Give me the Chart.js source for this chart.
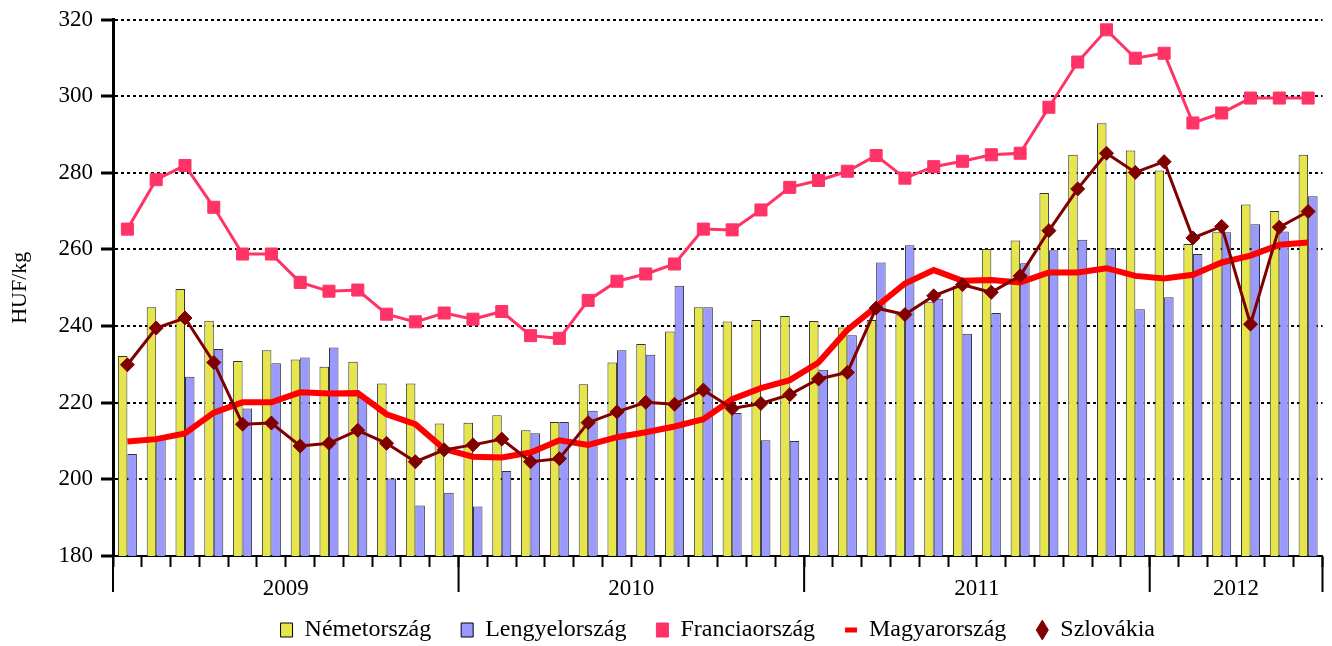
<!DOCTYPE html>
<html>
<head>
<meta charset="utf-8">
<script src="https://cdn.jsdelivr.net/npm/chart.js@4/dist/chart.umd.min.js"></script>
<style>
  html, body { margin: 0; padding: 0; background: #fff; }
  #wrap { width: 1332px; height: 646px; }
</style>
</head>
<body>
<div id="wrap"><canvas id="priceChart"></canvas></div>
<script>
// years on the axis and how many months each one covers
const years = ['2009', '2010', '2011', '2012'];
const monthsPerYear = [12, 12, 12, 6];

// HUF/kg, one value per month
const nemetorszag = [
    232.2, 244.9, 249.7, 241.4, 230.9, 233.7, 231.3, 229.4, 230.7, 225.0, 225.0, 214.6,
    214.8, 216.7, 212.8, 215.0, 224.8, 230.5, 235.3, 238.6, 244.9, 241.2, 241.6, 242.6,
    241.3, 239.6, 241.6, 243.0, 246.2, 250.5, 260.1, 262.3, 274.7, 284.7, 292.9, 285.8,
    280.6, 261.4, 264.5, 271.7, 270.0, 284.7
];
const lengyelorszag = [
    206.6, 210.8, 226.8, 234.0, 218.5, 230.3, 231.8, 234.4, 221.5, 200.2, 193.2, 196.5,
    192.9, 202.2, 212.0, 215.0, 217.9, 233.7, 232.5, 250.5, 244.9, 217.3, 210.2, 210.0,
    228.6, 237.6, 256.6, 261.1, 247.1, 238.0, 243.4, 256.4, 259.8, 262.5, 260.3, 244.4,
    247.5, 258.8, 264.5, 266.6, 264.7, 273.9
];
const franciaorszag = [
    265.3, 278.2, 281.9, 271.0, 258.8, 258.8, 251.4, 249.1, 249.4, 243.1, 241.1, 243.4,
    241.8, 243.8, 237.5, 236.8, 246.7, 251.7, 253.6, 256.2, 265.3, 265.1, 270.3, 276.2,
    278.0, 280.4, 284.5, 278.6, 281.6, 283.0, 284.7, 285.1, 297.1, 308.9, 317.3, 309.9,
    311.2, 293.0, 295.6, 299.5, 299.5, 299.5
];
const magyarorszag = [
    209.9, 210.5, 212.0, 217.4, 220.1, 220.1, 222.7, 222.4, 222.5, 217.0, 214.4, 207.9,
    205.9, 205.7, 207.0, 210.2, 209.0, 211.0, 212.3, 213.8, 215.7, 220.9, 223.8, 225.9,
    230.5, 239.0, 245.0, 251.1, 254.6, 251.8, 252.0, 251.4, 254.0, 254.0, 255.1, 253.1,
    252.4, 253.4, 256.6, 258.4, 261.2, 261.8
];
const szlovakia = [
    229.9, 239.5, 242.1, 230.5, 214.4, 214.7, 208.7, 209.4, 212.8, 209.4, 204.6, 207.7,
    209.0, 210.5, 204.6, 205.4, 214.8, 217.6, 220.1, 219.6, 223.3, 218.5, 219.8, 222.1,
    226.2, 227.9, 244.7, 243.0, 247.9, 250.8, 248.8, 253.1, 264.9, 275.8, 285.1, 280.1,
    282.9, 263.0, 266.0, 240.5, 265.8, 269.9
];

const yMin = 180, yMax = 320, yStep = 20;

// one label per month, e.g. "2009-01"
const months = [];
years.forEach((y, i) => {
    for (let m = 1; m <= monthsPerYear[i]; m++) {
        months.push(y + '-' + String(m).padStart(2, '0'));
    }
});

const serif = "'Liberation Serif', 'Times New Roman', serif";

// year labels and the long separators under the month ticks
const yearAxis = {
    id: 'yearAxis',
    afterDraw(chart) {
        const x = chart.scales.x;
        const ctx = chart.ctx;
        const bottom = chart.chartArea.bottom;
        const half = (x.getPixelForValue(1) - x.getPixelForValue(0)) / 2;
        ctx.save();
        ctx.strokeStyle = '#000';
        ctx.lineWidth = 2;
        ctx.fillStyle = '#000';
        ctx.font = '23px ' + serif;
        ctx.textAlign = 'center';
        ctx.textBaseline = 'middle';
        let start = 0;
        years.forEach((y, i) => {
            const l = x.getPixelForValue(start) - half;
            const r = x.getPixelForValue(start + monthsPerYear[i] - 1) + half;
            ctx.beginPath();
            ctx.moveTo(l, bottom);
            ctx.lineTo(l, bottom + 36);
            if (i === years.length - 1) {
                ctx.moveTo(r, bottom);
                ctx.lineTo(r, bottom + 36);
            }
            ctx.stroke();
            ctx.fillText(y, (l + r) / 2, bottom + 33);
            start += monthsPerYear[i];
        });
        ctx.restore();
    }
};

const legendStyles = ['rect', 'rect', 'rect', 'line', 'rectRot'];

new Chart(document.getElementById('priceChart'), {
    type: 'bar',
    data: {
        labels: months,
        datasets: [
            {
                label: 'Németország',
                data: nemetorszag,
                backgroundColor: '#E6E64C',
                borderColor: '#333',
                borderWidth: 1,
                categoryPercentage: 0.66,
                barPercentage: 1.0,
                order: 3
            },
            {
                label: 'Lengyelország',
                data: lengyelorszag,
                backgroundColor: '#9999FF',
                borderColor: '#333',
                borderWidth: 1,
                categoryPercentage: 0.66,
                barPercentage: 1.0,
                order: 3
            },
            {
                type: 'line',
                label: 'Franciaország',
                data: franciaorszag,
                borderColor: '#FF3366',
                backgroundColor: '#FF3366',
                borderWidth: 3,
                pointStyle: 'rect',
                pointRadius: 8.5,
                pointBorderWidth: 1,
                tension: 0,
                order: 2
            },
            {
                type: 'line',
                label: 'Magyarország',
                data: magyarorszag,
                borderColor: '#FF0000',
                backgroundColor: '#FF0000',
                borderWidth: 6,
                pointRadius: 0,
                tension: 0,
                order: 1
            },
            {
                type: 'line',
                label: 'Szlovákia',
                data: szlovakia,
                borderColor: '#800000',
                backgroundColor: '#800000',
                borderWidth: 3,
                pointStyle: 'rectRot',
                pointRadius: 7,
                pointBorderWidth: 1,
                tension: 0,
                order: 0
            }
        ]
    },
    options: {
        responsive: true,
        maintainAspectRatio: false,
        animation: false,
        layout: { padding: { left: 0, right: 5, top: 19, bottom: -6 } },
        scales: {
            x: {
                offset: true,
                grid: {
                    offset: true,
                    drawOnChartArea: false,
                    drawTicks: true,
                    tickLength: 11,
                    tickColor: '#000',
                    tickWidth: 2
                },
                border: { display: true, color: '#000', width: 2 },
                ticks: { display: false },
                afterFit(scale) { scale.height = 32; }
            },
            y: {
                min: yMin,
                max: yMax,
                ticks: {
                    stepSize: yStep,
                    color: '#000',
                    padding: 8,
                    font: { family: serif, size: 23, lineHeight: 1 }
                },
                grid: {
                    color: '#000',
                    lineWidth: 2,
                    tickLength: 12,
                    tickColor: '#000',
                    tickWidth: 3
                },
                border: { display: true, color: '#000', width: 3, dash: [3, 3] },
                title: {
                    display: true,
                    text: 'HUF/kg',
                    color: '#000',
                    font: { family: serif, size: 22 },
                    padding: { top: 7, bottom: 0 }
                },
                afterFit(scale) { scale.width = 113; }
            }
        },
        plugins: {
            tooltip: { enabled: false },
            legend: {
                position: 'bottom',
                fullSize: false,
                labels: {
                    color: '#000',
                    font: { family: serif, size: 24 },
                    usePointStyle: true,
                    pointStyleWidth: 12,
                    boxHeight: 14,
                    padding: 30,
                    generateLabels(chart) {
                        const items = Chart.defaults.plugins.legend.labels.generateLabels(chart);
                        items.forEach(it => {
                            const i = it.datasetIndex;
                            it.pointStyle = legendStyles[i];
                            if (i < 2) {
                                it.strokeStyle = '#000';
                                it.lineWidth = 1;
                            } else if (i === 3) {
                                it.lineWidth = 5;
                            } else {
                                it.lineWidth = 1;
                            }
                        });
                        return items.sort((a, b) => a.datasetIndex - b.datasetIndex);
                    }
                }
            }
        }
    },
    plugins: [yearAxis]
});
</script>
</body>
</html>
